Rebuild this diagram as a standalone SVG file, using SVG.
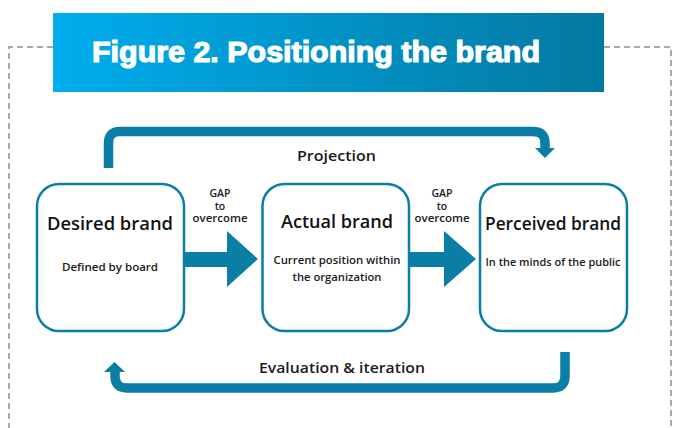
<svg xmlns="http://www.w3.org/2000/svg" width="680" height="428" viewBox="0 0 680 428">
<defs>
<linearGradient id="bannerGrad" x1="0" y1="0" x2="1" y2="0">
<stop offset="0" stop-color="#00adee"/>
<stop offset="1" stop-color="#0479a0"/>
</linearGradient>
<style>
.frame{fill:none;stroke:#a9a9a9;stroke-width:2;stroke-dasharray:6 4}
.box{fill:#fff;stroke:#0a7ea5;stroke-width:2.5}
.head{font-family:"Open Sans","Liberation Sans",Arial,sans-serif;font-size:18px;font-weight:600;fill:#111;text-anchor:middle}
.sub{font-family:"Open Sans","Liberation Sans",Arial,sans-serif;font-size:11px;font-weight:600;fill:#1a1a1a;text-anchor:middle}
.gap{font-family:"Open Sans","Liberation Sans",Arial,sans-serif;font-size:10.5px;font-weight:600;fill:#1a1a1a;text-anchor:middle}
.lbl{font-family:"Open Sans","Liberation Sans",Arial,sans-serif;font-size:15px;font-weight:600;fill:#1a1a1a;text-anchor:middle}
.flow{fill:none;stroke:#0a7ea5;stroke-width:9.5}
.fill{fill:#0a7ea5}
</style>
</defs>
<rect width="680" height="428" fill="#fff"/>
<path class="frame" d="M53,47 H9 V428 M604,47 H671 V428"/>
<g id="title">
<rect x="53" y="13" width="551" height="79" fill="url(#bannerGrad)"/>
<text x="92" y="62" font-family="Liberation Sans,Arial,sans-serif" font-size="30" font-weight="900" fill="#fff" stroke="#fff" stroke-width="1.2" textLength="448" lengthAdjust="spacingAndGlyphs">Figure 2. Positioning the brand</text>
</g>
<g id="connectors">
<g id="gap1">
<polygon class="fill" points="184,252 227,252 227,231 258,259 227,287 227,267 184,267"/>
<text class="gap" x="220" y="197">GAP</text>
<text class="gap" x="220" y="209.5">to</text>
<text class="gap" x="220" y="222" textLength="55" lengthAdjust="spacingAndGlyphs">overcome</text>
</g>
<g id="gap2">
<polygon class="fill" points="409,252 444,252 444,231 476,259 444,287 444,267 409,267"/>
<text class="gap" x="442" y="197">GAP</text>
<text class="gap" x="442" y="209.5">to</text>
<text class="gap" x="442" y="222" textLength="55" lengthAdjust="spacingAndGlyphs">overcome</text>
</g>
<g id="projection">
<path class="flow" d="M108.5,168 V143 Q108.5,131.5 120,131.5 H533 Q545,131.5 545,143 V149"/>
<polygon class="fill" points="535,148 555,148 545,158"/>
<text class="lbl" x="336.5" y="161" textLength="79" lengthAdjust="spacingAndGlyphs">Projection</text>
</g>
<g id="evaluation">
<path class="flow" d="M565,352 V376 Q565,388 553,388 H127 Q115,388 115,376 V371"/>
<polygon class="fill" points="104,372 125,372 114.5,362"/>
<text class="lbl" x="342" y="373" textLength="166" lengthAdjust="spacingAndGlyphs">Evaluation &amp; iteration</text>
</g>
</g>
<g id="desired">
<rect class="box" x="37" y="184" width="147" height="147" rx="22"/>
<text class="head" x="110" y="230" textLength="126" lengthAdjust="spacingAndGlyphs">Desired brand</text>
<text class="sub" x="110" y="271" textLength="96" lengthAdjust="spacingAndGlyphs">Defined by board</text>
</g>
<g id="actual">
<rect class="box" x="262.5" y="184" width="146.5" height="147" rx="22"/>
<text class="head" x="337" y="228" textLength="112" lengthAdjust="spacingAndGlyphs">Actual brand</text>
<text class="sub" x="337" y="264" textLength="127" lengthAdjust="spacingAndGlyphs">Current position within</text>
<text class="sub" x="337" y="281" textLength="89" lengthAdjust="spacingAndGlyphs">the organization</text>
</g>
<g id="perceived">
<rect class="box" x="480" y="184" width="147" height="147" rx="22"/>
<text class="head" x="553" y="230" textLength="136" lengthAdjust="spacingAndGlyphs">Perceived brand</text>
<text class="sub" x="553" y="266" textLength="135" lengthAdjust="spacingAndGlyphs">In the minds of the public</text>
</g>
</svg>
